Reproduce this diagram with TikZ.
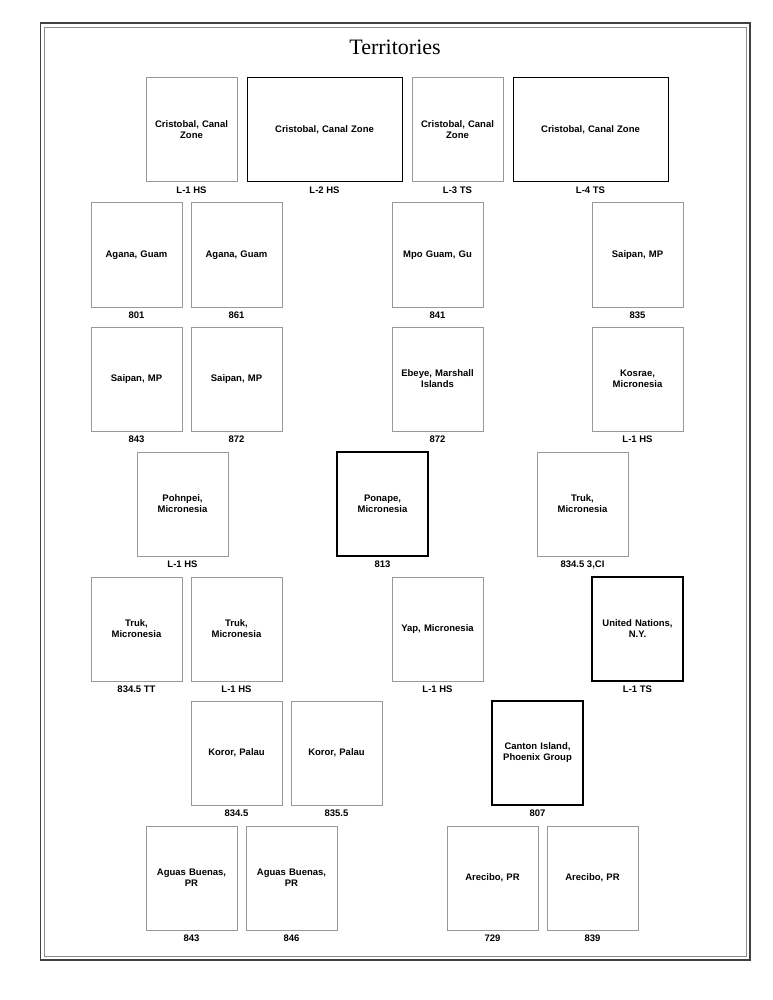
\documentclass[tikz,border=0pt]{standalone}
\usepackage{fontspec}
\setmainfont{Liberation Serif}
\newfontfamily\arialf{Liberation Sans}
\tikzset{
  stampbox/.style={draw=black!40, line width=1pt},
  darkbox/.style={draw=black, line width=1pt},
  heavybox/.style={draw=black, line width=2pt},
  stxt/.style={font=\arialf\bfseries\fontsize{9.5}{11}\selectfont, align=center},
  lbl/.style={font=\arialf\bfseries\fontsize{9.5}{10}\selectfont}
}
\newcommand\stamp[8]{%
  \draw[#8] (#2,#3) rectangle (#2+#4,#3+#5);
  \node[stxt, text width=#4pt-6pt] (#1) at (#2+#4/2,#3+#5/2) {#6};
  \node[lbl] (#1l) at (#2+#4/2,#3+#5+8.5) {#7};
}
\begin{document}
\begin{tikzpicture}[x=1pt,y=-1pt]
\useasboundingbox (0,0) rectangle (772,1000);
\fill[white] (0,0) rectangle (772,1000);
\draw[black!75, line width=1.2pt] (40.5,23) rectangle (750,960);
\draw[black!45, line width=0.8pt] (44.5,27) rectangle (746,956);
\node[font=\fontsize{22}{26}\selectfont] (title) at (395,47) {Territories};
\stamp{a1}{146}{78}{91}{104}{Cristobal, Canal\\Zone}{L-1 HS}{stampbox}
\stamp{a2}{247}{78}{155}{104}{Cristobal, Canal Zone}{L-2 HS}{darkbox}
\stamp{a3}{412}{78}{91}{104}{Cristobal, Canal\\Zone}{L-3 TS}{stampbox}
\stamp{a4}{513}{78}{155}{104}{Cristobal, Canal Zone}{L-4 TS}{darkbox}
\stamp{b1}{91}{203}{91}{104}{Agana, Guam}{801}{stampbox}
\stamp{b2}{191}{203}{91}{104}{Agana, Guam}{861}{stampbox}
\stamp{b3}{392}{203}{91}{104}{Mpo Guam, Gu}{841}{stampbox}
\stamp{b4}{592}{203}{91}{104}{Saipan, MP}{835}{stampbox}
\stamp{c1}{91}{327}{91}{104}{Saipan, MP}{843}{stampbox}
\stamp{c2}{191}{327}{91}{104}{Saipan, MP}{872}{stampbox}
\stamp{c3}{392}{327}{91}{104}{Ebeye, Marshall\\Islands}{872}{stampbox}
\stamp{c4}{592}{327}{91}{104}{Kosrae,\\Micronesia}{L-1 HS}{stampbox}
\stamp{d1}{137}{452}{91}{104}{Pohnpei,\\Micronesia}{L-1 HS}{stampbox}
\stamp{d2}{337}{452}{91}{104}{Ponape,\\Micronesia}{813}{heavybox}
\stamp{d3}{537}{452}{91}{104}{Truk,\\Micronesia}{834.5 3,CI}{stampbox}
\stamp{e1}{91}{577}{91}{104}{Truk,\\Micronesia}{834.5 TT}{stampbox}
\stamp{e2}{191}{577}{91}{104}{Truk,\\Micronesia}{L-1 HS}{stampbox}
\stamp{e3}{392}{577}{91}{104}{Yap, Micronesia}{L-1 HS}{stampbox}
\stamp{e4}{592}{577}{91}{104}{United Nations,\\N.Y.}{L-1 TS}{heavybox}
\stamp{f1}{191}{701}{91}{104}{Koror, Palau}{834.5}{stampbox}
\stamp{f2}{291}{701}{91}{104}{Koror, Palau}{835.5}{stampbox}
\stamp{f3}{492}{701}{91}{104}{Canton Island,\\Phoenix Group}{807}{heavybox}
\stamp{g1}{146}{826}{91}{104}{Aguas Buenas,\\PR}{843}{stampbox}
\stamp{g2}{246}{826}{91}{104}{Aguas Buenas,\\PR}{846}{stampbox}
\stamp{g3}{447}{826}{91}{104}{Arecibo, PR}{729}{stampbox}
\stamp{g4}{547}{826}{91}{104}{Arecibo, PR}{839}{stampbox}
\end{tikzpicture}
\end{document}
